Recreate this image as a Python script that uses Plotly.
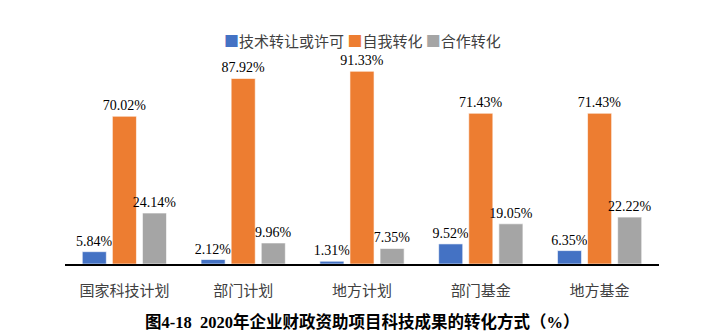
import plotly.graph_objects as go

categories = ["国家科技计划", "部门计划", "地方计划", "部门基金", "地方基金"]
series_names = ["技术转让或许可", "自我转化", "合作转化"]
tech_transfer = [5.84, 2.12, 1.31, 9.52, 6.35]
self_convert = [70.02, 87.92, 91.33, 71.43, 71.43]
cooperate = [24.14, 9.96, 7.35, 19.05, 22.22]
colors = ["#4472C4", "#ED7D31", "#A5A5A5"]

fig = go.Figure()
for name, vals, c in zip(series_names, [tech_transfer, self_convert, cooperate], colors):
    fig.add_trace(go.Bar(
        x=categories, y=vals, name=name,
        marker=dict(color=c, line=dict(color="rgba(255,255,255,0.6)", width=1)),
        text=[f"{v:.2f}%" for v in vals], textposition="outside",
        constraintext="none",
        textfont=dict(family="Liberation Serif, Times New Roman, serif", size=14, color="#000"),
        cliponaxis=False,
    ))

legend_html = "".join(
    f"<span style='color:{c}'>■</span>{n} " for n, c in zip(series_names, colors)
).strip()

fig.update_layout(
    width=708, height=334,
    margin=dict(l=65, r=49, t=53, b=70),
    paper_bgcolor="white", plot_bgcolor="white",
    barmode="group", bargap=0.24, bargroupgap=0.2,
    showlegend=False,
    font=dict(family="Noto Sans CJK SC"),
    xaxis=dict(showline=True, linecolor="black", linewidth=1.5, ticks="",
               ticklabelstandoff=12,
               tickfont=dict(family="Noto Sans CJK SC", size=15, color="#404040")),
    yaxis=dict(range=[0, 100], visible=False, showgrid=False),
    annotations=[
        dict(text="<b>图4-18&nbsp;&nbsp;2020年企业财政资助项目科技成果的转化方式（%）</b>",
             x=0.5, xref="paper", xanchor="center", y=-0.275, yref="paper", yanchor="middle",
             showarrow=False,
             font=dict(family="Liberation Serif, Noto Sans CJK SC", size=16.5, color="#000")),
        dict(text=legend_html, x=0.5, xref="paper", xanchor="center",
             y=1.06, yref="paper", yanchor="middle", showarrow=False,
             font=dict(family="Noto Sans CJK SC", size=15, color="#404040")),
    ],
)
fig.write_html("out.html")
